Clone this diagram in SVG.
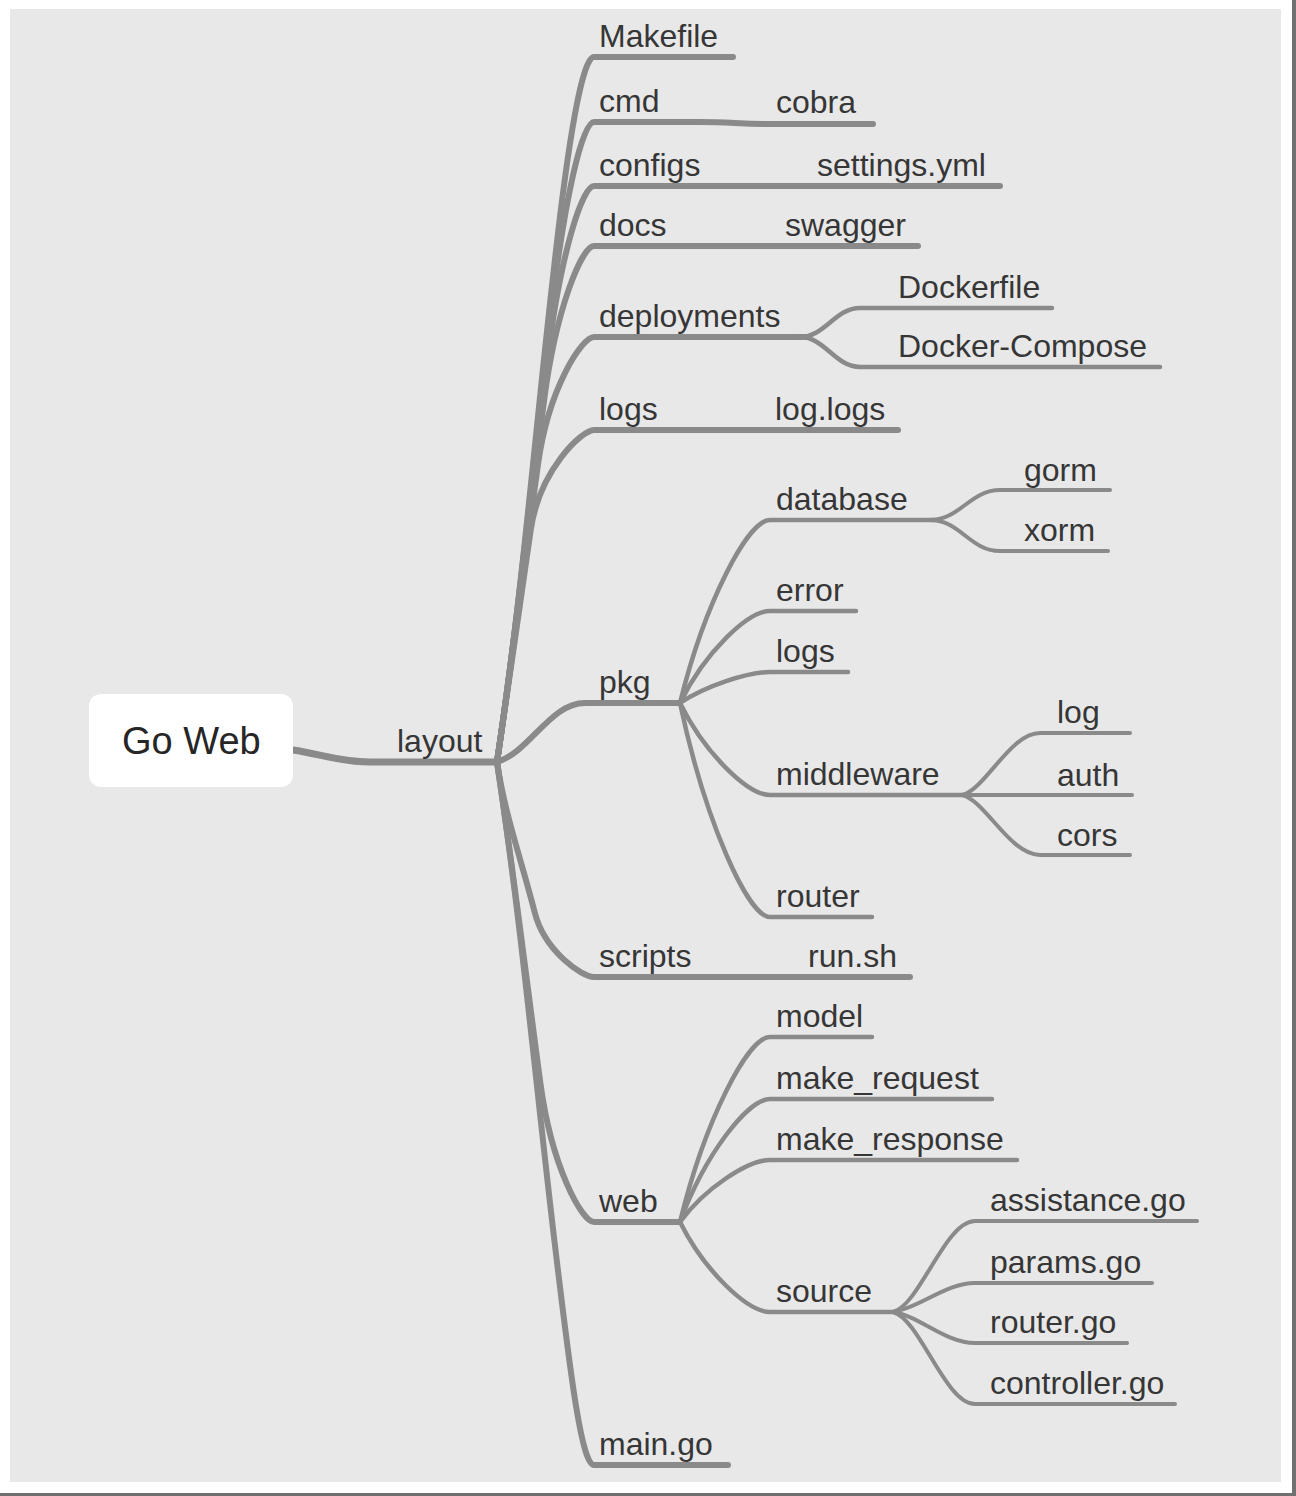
<svg xmlns="http://www.w3.org/2000/svg" width="1296" height="1496" viewBox="0 0 1296 1496">
<style>
.t{font-family:"Liberation Sans",Arial,Helvetica,sans-serif;font-size:32px;fill:#363636}
.root{font-family:"Liberation Sans",Arial,Helvetica,sans-serif;font-size:38px;fill:#262626}
.c{fill:none;stroke:#8a8a8a;stroke-linecap:round;stroke-linejoin:round}
.l1{stroke-width:6}
.l2{stroke-width:4.5}
.l3{stroke-width:4}
</style>
<rect x="0" y="0" width="1296" height="1496" fill="#ffffff"/>
<rect x="10" y="9" width="1271" height="1473" fill="#e8e8e8"/>
<rect x="1292" y="0" width="4" height="1496" fill="#707070"/>
<rect x="0" y="1493" width="1296" height="3" fill="#707070"/>

<g id="connectors">
  <path class="c l1" style="stroke-width:7" d="M293,750 C320,754 340,762 370,762 L497,762"/>
  <path class="c l1" d="M497,762 C523,589 534,441 554,268 C568,142 582,57 594,57 L733,57"/>
  <path class="c l1" d="M497,762 C520.5,605 532,471 550.8,314 C564.6,199 582,122 594,122 L700,122 C730,122 740,124 770,124 L873,124"/>
  <path class="c l1" d="M497,762 C518,621 530,500 547.4,359 C560.4,255 582,186 594,186 L1000,186"/>
  <path class="c l1" d="M497,762 C516,636 527.6,527 544,401 C556,308 582,246 594,246 L918,246"/>
  <path class="c l1" d="M497,762 C512.6,658 523.6,569 537.9,465 C548.4,388 582,337 594,337 L805,337"/>
  <path class="c l1" d="M497,762 C509.2,681 518.9,611 530.7,530 C539.4,470 582,430 594,430 L898,430"/>
  <path class="c l1" d="M497,762 C530,752 550,703 585,703 L680,703"/>
  <path class="c l1" d="M497,762 C504.9,815 521.4,860 534.6,912 C544.3,951 582,977 594,977 L910,977"/>
  <path class="c l1" d="M497,762 C514,875 525.3,971 540.5,1084 C551.7,1167 582,1222 594,1222 L680,1222"/>
  <path class="c l1" d="M497,762 C522.8,934 535.3,1082 556,1254 C571.2,1381 582,1465 594,1465 L728,1465"/>

  <path class="c l2" d="M800,337 C825,337 835,308 860,308 L1052,308"/>
  <path class="c l2" d="M800,337 C825,337 835,367 860,367 L1160,367"/>

  <path class="c l2" d="M680,703 C705,602 748,520 770,520 L935,520"/>
  <path class="c l2" d="M680,703 C705,652 748,611 770,611 L856,611"/>
  <path class="c l2" d="M680,703 C705,686 748,672 770,672 L848,672"/>
  <path class="c l2" d="M680,703 C705,754 748,795 770,795 L965,795"/>
  <path class="c l2" d="M680,703 C705,821 748,917 770,917 L872,917"/>

  <path class="c l3" d="M930,520 C960,520 970,490 1000,490 L1110,490"/>
  <path class="c l3" d="M930,520 C960,520 970,551 1000,551 L1108,551"/>

  <path class="c l3" d="M962,795 C985,790 1010,733 1040,733 L1130,733"/>
  <path class="c l3" d="M962,795 L1132,795"/>
  <path class="c l3" d="M962,795 C985,800 1010,855 1040,855 L1130,855"/>

  <path class="c l2" d="M680,1222 C705,1120 748,1037 770,1037 L872,1037"/>
  <path class="c l2" d="M680,1222 C705,1154 748,1099 770,1099 L992,1099"/>
  <path class="c l2" d="M680,1222 C705,1188 748,1160 770,1160 L1017,1160"/>
  <path class="c l2" d="M680,1222 C705,1272 748,1312 770,1312 L898,1312"/>

  <path class="c l3" d="M893,1312 C920,1305 945,1221 975,1221 L1197,1221"/>
  <path class="c l3" d="M893,1312 C920,1308 945,1283 975,1283 L1152,1283"/>
  <path class="c l3" d="M893,1312 C920,1316 945,1343 975,1343 L1127,1343"/>
  <path class="c l3" d="M893,1312 C920,1319 945,1404 975,1404 L1175,1404"/>
</g>

<g id="root"><rect x="89" y="694" width="204" height="93" rx="12" fill="#ffffff"/><text class="root" x="122" y="754">Go Web</text></g>
<g id="layout"><text class="t" x="397" y="752">layout</text></g>

<g id="makefile"><text class="t" x="599" y="47">Makefile</text></g>
<g id="cmd"><text class="t" x="599" y="112">cmd</text></g>
<g id="cobra"><text class="t" x="776" y="113">cobra</text></g>
<g id="configs"><text class="t" x="599" y="176">configs</text></g>
<g id="settings"><text class="t" x="817" y="176">settings.yml</text></g>
<g id="docs"><text class="t" x="599" y="236">docs</text></g>
<g id="swagger"><text class="t" x="785" y="236">swagger</text></g>
<g id="deployments"><text class="t" x="599" y="327">deployments</text></g>
<g id="dockerfile"><text class="t" x="898" y="298">Dockerfile</text></g>
<g id="dockercompose"><text class="t" x="898" y="357">Docker-Compose</text></g>
<g id="logs"><text class="t" x="599" y="420">logs</text></g>
<g id="loglogs"><text class="t" x="775" y="420">log.logs</text></g>
<g id="pkg"><text class="t" x="599" y="693">pkg</text></g>
<g id="database"><text class="t" x="776" y="510">database</text></g>
<g id="gorm"><text class="t" x="1024" y="481">gorm</text></g>
<g id="xorm"><text class="t" x="1024" y="541">xorm</text></g>
<g id="error"><text class="t" x="776" y="601">error</text></g>
<g id="pkglogs"><text class="t" x="776" y="662">logs</text></g>
<g id="middleware"><text class="t" x="776" y="785">middleware</text></g>
<g id="mwlog"><text class="t" x="1057" y="723">log</text></g>
<g id="auth"><text class="t" x="1057" y="786">auth</text></g>
<g id="cors"><text class="t" x="1057" y="846">cors</text></g>
<g id="router"><text class="t" x="776" y="907">router</text></g>
<g id="scripts"><text class="t" x="599" y="967">scripts</text></g>
<g id="runsh"><text class="t" x="808" y="967">run.sh</text></g>
<g id="web"><text class="t" x="599" y="1212">web</text></g>
<g id="model"><text class="t" x="776" y="1027">model</text></g>
<g id="makerequest"><text class="t" x="776" y="1089">make_request</text></g>
<g id="makeresponse"><text class="t" x="776" y="1150">make_response</text></g>
<g id="source"><text class="t" x="776" y="1302">source</text></g>
<g id="assistance"><text class="t" x="990" y="1211">assistance.go</text></g>
<g id="params"><text class="t" x="990" y="1273">params.go</text></g>
<g id="routergo"><text class="t" x="990" y="1333">router.go</text></g>
<g id="controller"><text class="t" x="990" y="1394">controller.go</text></g>
<g id="maingo"><text class="t" x="599" y="1455">main.go</text></g>
</svg>
